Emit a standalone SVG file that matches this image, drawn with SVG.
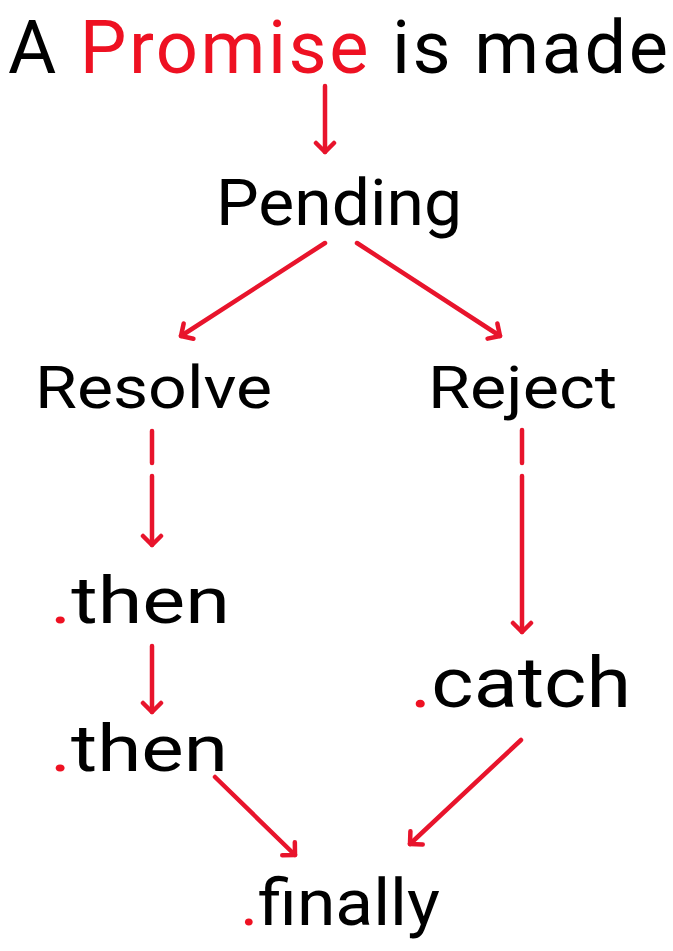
<svg xmlns="http://www.w3.org/2000/svg" width="673" height="951" viewBox="0 0 673 951">
<style>
.t{font-family:Roboto,"Liberation Sans",sans-serif;fill:#000}
.r{fill:#ee1122}
.a{fill:none;stroke:#e8142c;stroke-width:4.5;stroke-linecap:round;stroke-linejoin:round}
</style>
<defs>
<marker id="ah" viewBox="-12 -12 24 24" markerWidth="24" markerHeight="24" refX="0" refY="0" orient="auto" markerUnits="userSpaceOnUse">
<path d="M-9,-9 L0,0 L-9,9" fill="none" stroke="#e8142c" stroke-width="4.5" stroke-linecap="round" stroke-linejoin="round"/>
</marker>
</defs>
<rect width="673" height="951" fill="#fff"/>
<g id="title"><text class="t" x="8" y="73" font-size="74" textLength="660" lengthAdjust="spacing">A <tspan class="r">Promise</tspan> is made</text></g>
<g id="pending"><text class="t" x="216" y="225" font-size="64" textLength="246" lengthAdjust="spacingAndGlyphs">Pending</text></g>
<g id="resolve"><text class="t" x="35" y="408" font-size="60" textLength="237" lengthAdjust="spacingAndGlyphs">Resolve</text></g>
<g id="reject"><text class="t" x="428" y="408" font-size="60" textLength="189" lengthAdjust="spacingAndGlyphs">Reject</text></g>
<g id="then1"><text class="t" x="50" y="623" font-size="65" textLength="180" lengthAdjust="spacingAndGlyphs"><tspan class="r">.</tspan>then</text></g>
<g id="then2"><text class="t" x="50" y="771" font-size="65" textLength="178" lengthAdjust="spacingAndGlyphs"><tspan class="r">.</tspan>then</text></g>
<g id="catch"><text class="t" x="410" y="707" font-size="70" textLength="221" lengthAdjust="spacingAndGlyphs"><tspan class="r">.</tspan>catch</text></g>
<g id="finally"><text class="t" x="240" y="925" font-size="65" textLength="200" lengthAdjust="spacingAndGlyphs"><tspan class="r">.</tspan>finally</text></g>
<g id="connectors">
<path class="a" d="M325,86 L325,152" marker-end="url(#ah)"/>
<path class="a" d="M325,243 L181,336" marker-end="url(#ah)"/>
<path class="a" d="M357,243 L500,336" marker-end="url(#ah)"/>
<path class="a" d="M152,431 L152,463"/>
<path class="a" d="M152,476 L152,545" marker-end="url(#ah)"/>
<path class="a" d="M522,430 L522,463"/>
<path class="a" d="M522,476 L522,632" marker-end="url(#ah)"/>
<path class="a" d="M152,646 L152,712" marker-end="url(#ah)"/>
<path class="a" d="M215,777 L295,855" marker-end="url(#ah)"/>
<path class="a" d="M521,740 L410,844" marker-end="url(#ah)"/>
</g>
</svg>
